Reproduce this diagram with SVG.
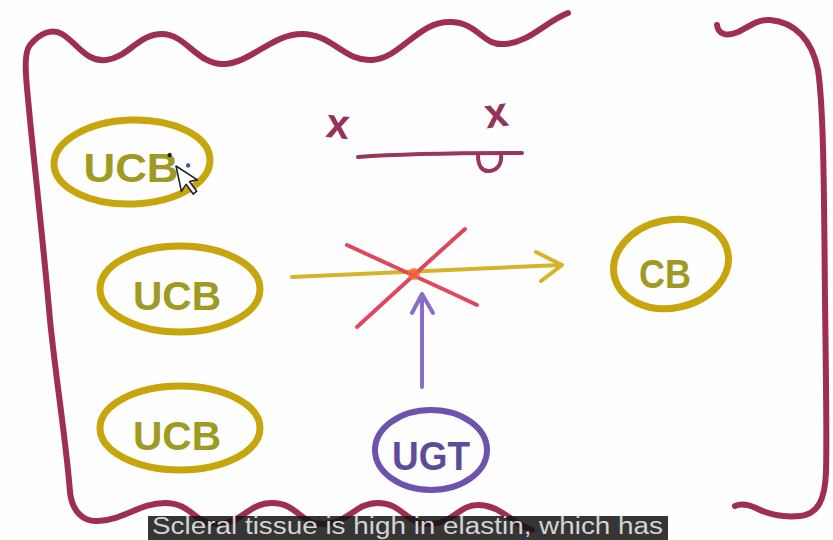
<svg xmlns="http://www.w3.org/2000/svg" width="833" height="540" viewBox="0 0 833 540">
  <style>
    .border { fill: none; stroke: #9e2f52; stroke-width: 6; stroke-linecap: round; stroke-linejoin: round; }
    .gold { fill: none; stroke: #c6a60c; stroke-width: 7; }
    .goldtxt { fill: #a09a22; font-family: "Liberation Sans", Arial, sans-serif; font-weight: bold; font-size: 40px; text-anchor: middle; }
    .violet { fill: none; stroke: #6e52ae; stroke-width: 6; }
    .violettxt { fill: #5d4c98; font-family: "Liberation Sans", Arial, sans-serif; font-weight: bold; font-size: 40px; text-anchor: middle; }
    .pen { fill: none; stroke-linecap: round; stroke-linejoin: round; stroke-width: 4; }
    .mark { fill: #943258; font-family: "Liberation Sans", Arial, sans-serif; font-weight: bold; font-size: 42px; text-anchor: middle; }
  </style>

  <rect width="833" height="540" fill="#fdfefd"/>

  <!-- hand-drawn frame -->
  <g id="frame">
    <path class="border" d="M70,492 C66,440 56,380 50,320 C44,250 36,180 30,120 C27,85 22,55 30,45 C40,33 52,28 62,34 C78,44 86,62 106,60 C128,58 138,34 162,34 C186,34 198,66 225,64 C252,62 272,34 302,34 C332,34 345,62 372,60 C402,58 418,20 452,22 C480,24 482,46 505,44 C530,42 545,22 568,13"/>
    <path class="border" d="M70,492 C72,512 84,522 98,521 C124,520 140,503 165,503 C192,503 195,525 218,524 C243,523 248,503 272,503 C298,503 300,525 324,524 C349,523 355,503 378,503 C403,503 406,525 430,524 C455,523 458,505 478,505 C500,505 510,522 532,530"/>
    <path class="border" d="M717,25 C718,34 726,37 738,32 C750,26 758,19 770,20 C795,22 812,40 818,70 C824,110 824,200 825,300 C826,380 827,440 826,472 C825,500 818,514 800,516 C780,518 768,514 758,509 C750,505 742,503 735,506"/>
  </g>

  <!-- face-like sketch -->
  <g id="sketch">
    <text class="mark" x="338" y="138" transform="rotate(6 338 124)">x</text>
    <text class="mark" x="496" y="127" transform="rotate(-8 496 112)">x</text>
    <path class="pen" stroke="#9a3560" d="M358,157 C410,153 470,153 522,153"/>
    <path class="pen" stroke="#9a3560" d="M478,155 C478,166 482,172 490,171 C498,170 502,163 501,155"/>
  </g>

  <!-- connectors -->
  <g id="connectors">
    <path class="pen" stroke="#d6b42a" d="M292,277 C380,273 470,269 561,265"/>
    <path class="pen" stroke="#d6b42a" d="M536,252 L562,265 L541,281"/>
    <path class="pen" stroke="#e0475e" d="M347,245 C390,265 435,285 477,305"/>
    <path class="pen" stroke="#e0475e" d="M357,327 C392,295 428,262 465,229"/>
    <circle cx="414" cy="274" r="6" fill="#f2692e" opacity="0.75"/>
    <path class="pen" stroke="#8a6cc8" d="M422,387 L422,296"/>
    <path class="pen" stroke="#8a6cc8" d="M412,313 L422,294 L433,313"/>
  </g>

  <g id="ucb-1">
    <ellipse class="gold" cx="132" cy="162" rx="78" ry="42" transform="rotate(-2 132 162)"/>
    <text class="goldtxt" x="131" y="182" textLength="95" lengthAdjust="spacingAndGlyphs">UCB</text>
  </g>
  <g id="ucb-2">
    <ellipse class="gold" cx="180" cy="289" rx="80" ry="43"/>
    <text class="goldtxt" x="177" y="310" textLength="88" lengthAdjust="spacingAndGlyphs">UCB</text>
  </g>
  <g id="ucb-3">
    <ellipse class="gold" cx="180" cy="428" rx="80" ry="42"/>
    <text class="goldtxt" x="177" y="450" textLength="88" lengthAdjust="spacingAndGlyphs">UCB</text>
  </g>
  <g id="cb">
    <ellipse class="gold" cx="671" cy="264" rx="58" ry="44" transform="rotate(-12 671 264)"/>
    <text class="goldtxt" x="665" y="288" textLength="52" lengthAdjust="spacingAndGlyphs">CB</text>
  </g>
  <g id="ugt">
    <ellipse class="violet" cx="431" cy="450" rx="56" ry="40"/>
    <text class="violettxt" x="431" y="470" textLength="78" lengthAdjust="spacingAndGlyphs">UGT</text>
  </g>

  <!-- pointer -->
  <g id="pointer" transform="translate(176,166) rotate(-12)">
    <path d="M0,0 L0,26 L6,20 L11,31 L15,29 L10,18 L18,18 Z" fill="#ffffff" stroke="#222" stroke-width="1.6" stroke-linejoin="round"/>
    <circle cx="-4" cy="-12" r="2.2" fill="#222"/>
    <circle cx="12" cy="2" r="2.2" fill="#2a5aa8"/>
  </g>

  <!-- caption -->
  <g id="caption">
    <rect x="148" y="516" width="520" height="24" fill="#141414" opacity="0.86"/>
    <text x="152" y="534" font-family="Liberation Sans, Arial, sans-serif" font-size="23" fill="#d4d4d4" textLength="511" lengthAdjust="spacingAndGlyphs">Scleral tissue is high in elastin, which has</text>
  </g>
</svg>
